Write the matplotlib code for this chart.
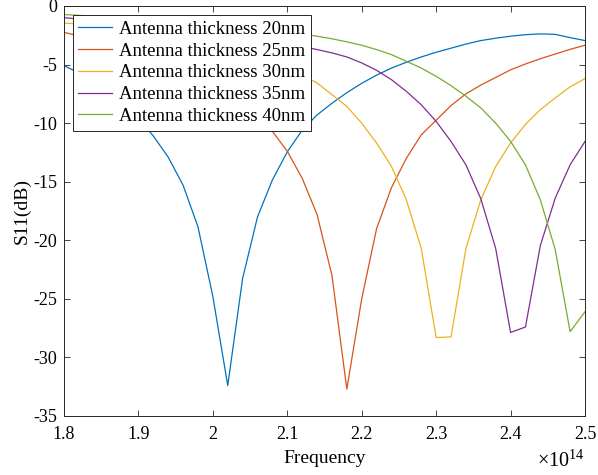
import numpy as np
import matplotlib.pyplot as plt

# Frequency samples (x 1e14 Hz)
freq = [1.80, 1.82, 1.84, 1.86, 1.88, 1.90, 1.92, 1.94, 1.96, 1.98,
        2.00, 2.02, 2.04, 2.06, 2.08, 2.10, 2.12, 2.14, 2.16, 2.18,
        2.20, 2.22, 2.24, 2.26, 2.28, 2.30, 2.32, 2.34, 2.36, 2.38,
        2.40, 2.42, 2.44, 2.46, 2.48, 2.50]

# S11 (dB)
s11_20nm = [-5.1, -5.7, -6.4, -7.3, -8.3, -9.6, -11.1, -12.9, -15.3, -18.85,
            -24.8, -32.4, -23.25, -18.0, -14.85, -12.45, -10.6, -9.3, -8.3, -7.4,
            -6.6, -5.9, -5.3, -4.8, -4.35, -3.95, -3.6, -3.25, -2.95, -2.75,
            -2.58, -2.45, -2.38, -2.42, -2.7, -2.95]
s11_25nm = [-2.25, -2.55, -2.9, -3.25, -3.6, -3.95, -4.35, -4.8, -5.3, -5.9,
            -6.6, -7.4, -8.3, -9.4, -10.7, -12.4, -14.7, -17.8, -23.0, -32.7,
            -25.0, -19.0, -15.5, -13.0, -11.0, -9.75, -8.5, -7.5, -6.75, -6.1,
            -5.45, -4.95, -4.5, -4.1, -3.7, -3.35]
s11_30nm = [-1.45, -1.55, -1.65, -1.8, -1.95, -2.1, -2.3, -2.5, -2.75, -3.0,
            -3.3, -3.6, -3.95, -4.35, -4.8, -5.3, -5.9, -6.57, -7.57, -8.57,
            -10.0, -11.7, -13.7, -16.55, -20.7, -28.3, -28.25, -20.7, -16.55, -13.7,
            -11.7, -10.1, -8.85, -7.85, -6.9, -6.2]
s11_35nm = [-1.0, -1.1, -1.25, -1.35, -1.45, -1.6, -1.7, -1.8, -1.95, -2.1,
            -2.25, -2.4, -2.6, -2.8, -3.0, -3.2, -3.45, -3.72, -4.0, -4.35,
            -4.86, -5.49, -6.29, -7.29, -8.43, -9.85, -11.56, -13.56, -16.45, -20.7,
            -27.87, -27.4, -20.45, -16.4, -13.56, -11.56]
s11_40nm = [-0.73, -0.8, -0.88, -0.95, -1.02, -1.1, -1.17, -1.25, -1.35, -1.45,
            -1.55, -1.65, -1.77, -1.9, -2.05, -2.2, -2.38, -2.58, -2.8, -3.06,
            -3.35, -3.72, -4.15, -4.72, -5.3, -6.0, -6.8, -7.7, -8.7, -10.0,
            -11.56, -13.56, -16.55, -20.8, -27.8, -26.1]

series = [s11_20nm, s11_25nm, s11_30nm, s11_35nm, s11_40nm]
labels = ["Antenna thickness 20nm", "Antenna thickness 25nm", "Antenna thickness 30nm",
          "Antenna thickness 35nm", "Antenna thickness 40nm"]
colors = [(0, 0.447, 0.741), (0.85, 0.325, 0.098), (0.929, 0.694, 0.125),
          (0.494, 0.184, 0.556), (0.466, 0.674, 0.188)]

xticks = [1.8, 1.9, 2.0, 2.1, 2.2, 2.3, 2.4, 2.5]
xticklabels = ["1.8", "1.9", "2", "2.1", "2.2", "2.3", "2.4", "2.5"]
yticks = [0, -5, -10, -15, -20, -25, -30, -35]

plt.rcParams['font.family'] = ['Liberation Serif', 'DejaVu Serif']
plt.rcParams['mathtext.fontset'] = 'custom'
plt.rcParams['mathtext.rm'] = 'Liberation Serif'
plt.rcParams['axes.unicode_minus'] = False

fig = plt.figure(figsize=(5.98, 4.75), dpi=100)
ax = fig.add_axes([64 / 598, 59 / 475, 521 / 598, 410 / 475])

for y, lab, c in zip(series, labels, colors):
    ax.plot(freq, y, color=c, lw=0.9, label=lab)

ax.set_xlim(1.8, 2.5)
ax.set_ylim(-35, 0)
ax.set_xticks(xticks)
ax.set_xticklabels(xticklabels)
ax.set_yticks(yticks)
ax.tick_params(direction='in', top=True, right=True, length=4, width=0.6,
               labelsize=13, colors='0.15', labelcolor='black')
ax.tick_params(axis='x', pad=7)
ax.tick_params(axis='y', pad=5)
for sp in ax.spines.values():
    sp.set_color('0.15')
    sp.set_linewidth(0.7)

ax.set_xlabel("Frequency", fontsize=14, labelpad=5)
ax.set_ylabel("S11(dB)", fontsize=14, labelpad=2)
ax.text(1.0, -0.124, r"$\times10^{14}$", transform=ax.transAxes, ha='right', va='baseline',
        fontsize=14.5)

leg = ax.legend(loc='upper left', bbox_to_anchor=(0.017, 0.978), fontsize=13.5,
                fancybox=False, framealpha=1, edgecolor='0.15', borderpad=0.3,
                labelspacing=0.25, handlelength=1.8, handletextpad=0.35,
                borderaxespad=0)
leg.get_frame().set_linewidth(0.7)

fig.savefig("out.png", dpi=100)
